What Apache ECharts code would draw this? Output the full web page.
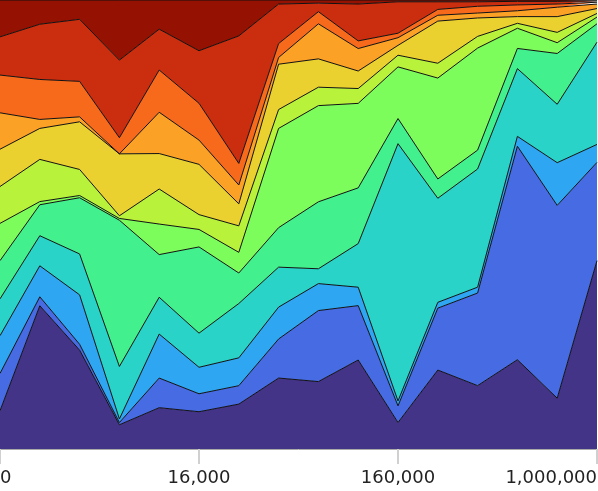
<!DOCTYPE html>
<html>
<head>
<meta charset="utf-8">
<script src="https://cdn.jsdelivr.net/npm/echarts@6/dist/echarts.min.js"></script>
<style>
html,body{margin:0;padding:0;background:#fff;}
#chart{width:598px;height:491px;}
</style>
</head>
<body>
<div id="chart"></div>
<script>
// x categories (only 0, 16,000, 160,000, 1,000,000 are labelled)
var categories = [0, 1000, 2000, 4000, 8000, 16000, 30000, 50000, 80000, 120000, 160000, 250000, 400000, 600000, 800000, 1000000];
var tickLabels = ['0', '16,000', '160,000', '1,000,000'];

// layer shares (bottom to top), percent
var s1  = [8.5, 31.9, 22.0, 5.4, 9.2, 8.3, 10.0, 15.8, 15.0, 19.8, 5.9, 17.6, 14.1, 19.9, 11.3, 42.0];
var s2  = [8.3, 2.0, 1.3, 0.5, 6.6, 4.0, 4.1, 8.7, 15.8, 12.1, 3.7, 13.8, 20.6, 47.6, 42.9, 21.9];
var s3  = [8.4, 6.9, 11.0, 0.8, 9.8, 5.9, 6.2, 7.1, 6.0, 4.1, 1.1, 1.3, 1.3, 2.2, 9.5, 4.0];
var s4  = [8.2, 6.7, 9.1, 11.7, 8.2, 7.6, 12.1, 8.9, 3.3, 9.7, 57.3, 23.2, 26.3, 15.1, 13.0, 22.8];
var s5  = [8.5, 6.9, 12.5, 32.6, 9.5, 19.2, 6.8, 8.8, 14.9, 12.4, 5.6, 4.3, 4.2, 4.5, 11.3, 4.1];
var s6  = [8.3, 0.7, 0.5, 0.4, 6.8, 3.9, 4.6, 22.1, 21.4, 18.8, 11.5, 22.5, 22.7, 4.5, 2.4, 1.5];
var s7  = [8.2, 9.4, 5.8, 0.6, 7.8, 3.3, 5.9, 4.2, 4.1, 3.3, 2.6, 3.3, 2.6, 1.1, 2.3, 0.8];
var s8  = [8.3, 6.9, 10.6, 13.8, 7.9, 11.2, 4.9, 10.1, 6.3, 3.9, 2.2, 9.4, 4.1, 1.5, 3.5, 1.1];
var s9  = [8.1, 2.0, 1.1, 0.0, 9.2, 5.4, 4.2, 1.5, 7.8, 5.0, 1.7, 1.3, 1.1, 1.3, 2.1, 1.0];
var s10 = [8.4, 8.9, 7.9, 3.6, 9.4, 8.2, 4.8, 3.1, 2.7, 1.7, 1.0, 1.3, 1.5, 1.3, 0.7, 0.4];
var s11 = [8.5, 12.3, 13.8, 17.3, 9.1, 11.7, 28.4, 8.8, 1.9, 8.2, 7.0, 1.7, 1.0, 0.8, 0.6, 0.3];
var s12 = [8.2, 5.4, 4.3, 13.4, 6.5, 11.3, 8.0, 0.9, 0.7, 0.9, 0.4, 0.4, 0.4, 0.3, 0.3, 0.2];

var layers = [s1, s2, s3, s4, s5, s6, s7, s8, s9, s10, s11, s12];
var colors = ['#433488', '#466be3', '#2fa6f2', '#29d3c7', '#42f18e', '#7dfd5c',
              '#b8f23b', '#ebd12f', '#fba126', '#f86a1b', '#cb2e0f', '#951102'];

// normalise each column to 100 %
var totals = categories.map(function (_, i) {
  return layers.reduce(function (a, s) { return a + s[i]; }, 0);
});
var series = layers.map(function (s, k) {
  return {
    type: 'line',
    stack: 'total',
    data: s.map(function (v, i) { return v / totals[i] * 100; }),
    showSymbol: false,
    symbol: 'none',
    lineStyle: { color: '#111', width: 1 },
    areaStyle: { color: colors[k], opacity: 1 },
    itemStyle: { color: colors[k] },
    emphasis: { disabled: true },
    animation: false
  };
});

var chart = echarts.init(document.getElementById('chart'), null, { renderer: 'canvas' });
chart.setOption({
  animation: false,
  grid: { left: 0, right: 1, top: 0, bottom: 42, containLabel: false, outerBoundsMode: 'none' },
  xAxis: {
    type: 'category',
    boundaryGap: false,
    data: categories.map(function (c) { return c.toLocaleString('en-US'); }),
    axisLine: { lineStyle: { color: '#aaa', width: 1 } },
    axisTick: { interval: 4, length: 15, lineStyle: { color: '#d0d0d0', width: 2 } },
    axisLabel: {
      interval: 4,
      margin: 20,
      fontSize: 18,
      color: '#222',
      fontFamily: 'DejaVu Sans',
      alignMinLabel: 'left',
      alignMaxLabel: 'right',
      formatter: function (v, i) { return tickLabels[Math.round(i / 5)] || v; }
    },
    splitLine: { show: false }
  },
  yAxis: {
    type: 'value', min: 0, max: 100, show: false,
    splitLine: { show: false }
  },
  series: series
});
</script>
</body>
</html>
